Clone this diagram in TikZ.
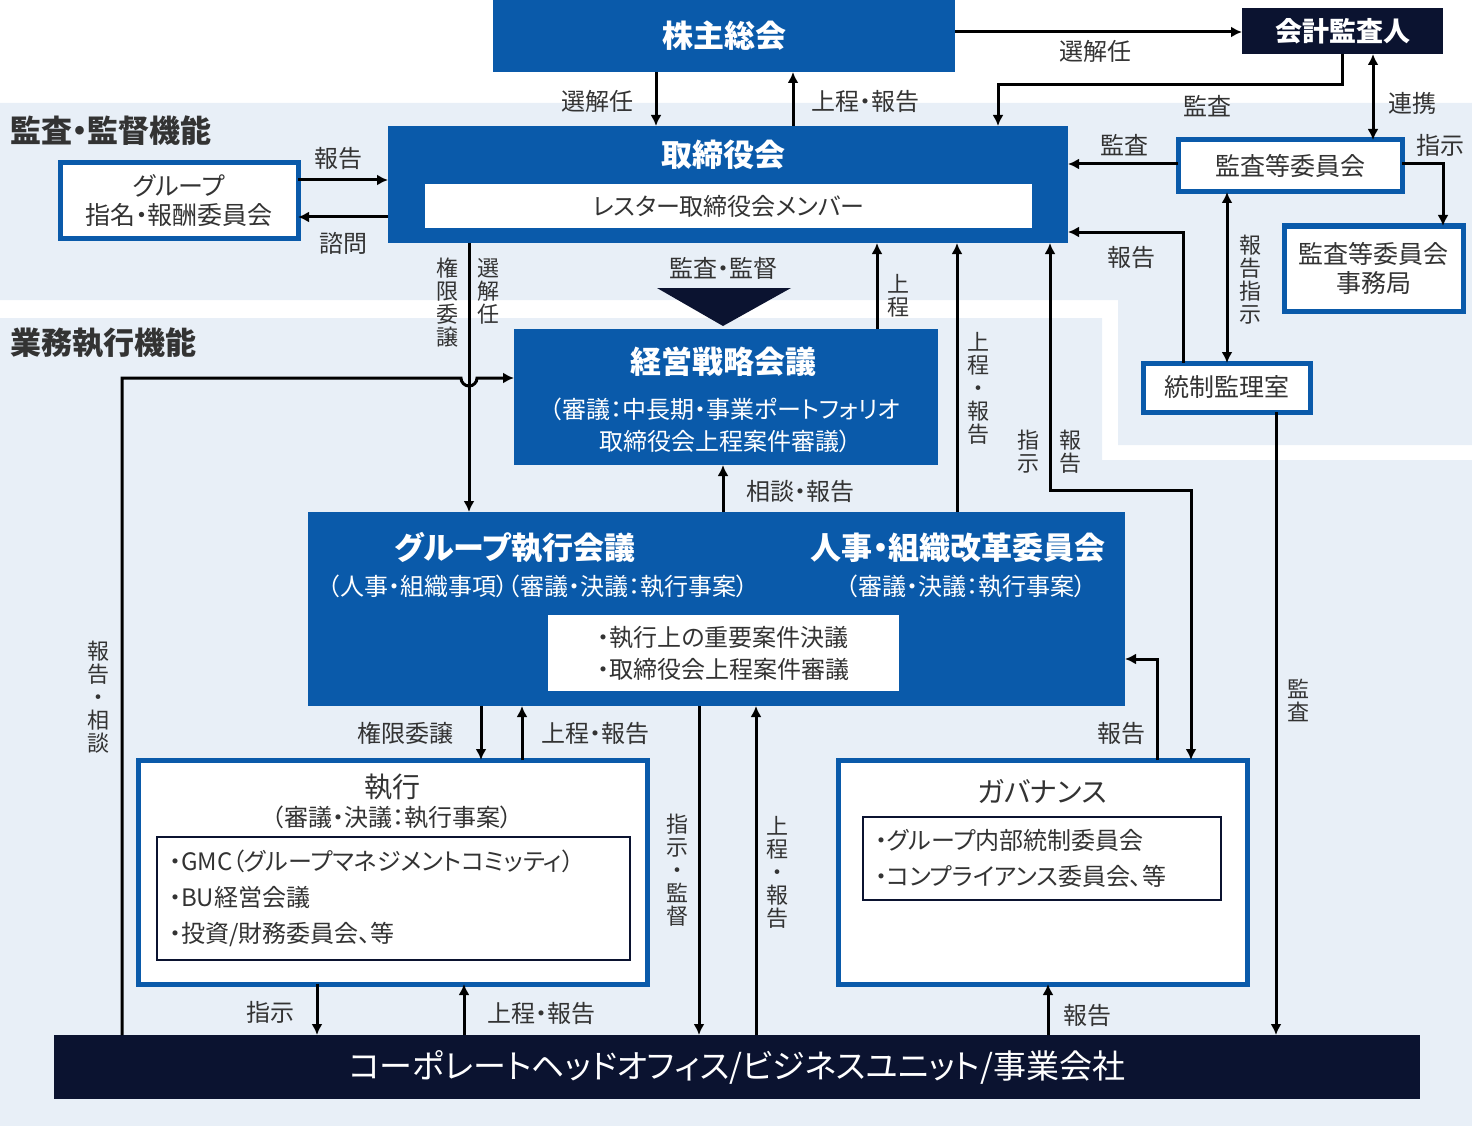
\documentclass[tikz,border=0pt]{standalone}
\usepackage{fontspec}
\setmainfont{Noto Sans CJK JP}[RawFeature = +palt]
\usetikzlibrary{arrows.meta}
\definecolor{corpblue}{HTML}{0A5AAA}
\definecolor{corpnavy}{HTML}{0B1330}
\definecolor{bandbg}{HTML}{E8EFF7}
\definecolor{labelgray}{HTML}{333333}
\newcommand\titlefont{\fontsize{31}{34}\selectfont\bfseries}
\newcommand\subfont{\fontsize{24}{32}\selectfont}
\begin{document}
\begin{tikzpicture}[
    x = 1pt, y = -1pt,
    box/.style = {anchor = north west, inner sep = 0pt, outer sep = 0pt},
    bluebox/.style = {box, fill = corpblue, text = white},
    navybox/.style = {box, fill = corpnavy, text = white},
    framebox/.style = {box, draw = corpblue, line width = 5pt, fill = white,
      text = labelgray},
    innerbox/.style = {box, draw = corpnavy, line width = 2pt, fill = white,
      text = labelgray},
    txt/.style = {inner sep = 0pt, text = labelgray, font = \subfont,
      align = center},
    vtxt/.style = {txt, font = \fontsize{22}{23}\selectfont},
    flow/.style = {line width = 3pt, -{Latex[length = 11pt, width = 11pt]}},
    both/.style = {line width = 3pt,
      {Latex[length = 11pt, width = 11pt]}-{Latex[length = 11pt, width = 11pt]}},
    ]
    \useasboundingbox (0, 0) rectangle (1472, 1126);

    % bands
    \fill [bandbg] (0, 103) -- (1472, 103) -- (1472, 445) -- (1118, 445)
    -- (1118, 300) -- (0, 300) -- cycle;
    \fill [bandbg] (0, 318) -- (1102, 318) -- (1102, 460) -- (1472, 460)
    -- (1472, 1126) -- (0, 1126) -- cycle;
    \node [txt, anchor = west, font = \fontsize{31}{34}\selectfont\bfseries]
    (audit_band) at (10, 131) {監査・監督機能};
    \node [txt, anchor = west, font = \fontsize{31}{34}\selectfont\bfseries]
    (exec_band) at (10, 343) {業務執行機能};

    % top level
    \node [bluebox, minimum width = 462, minimum height = 72] (shareholders)
    at (493, 0) {\titlefont 株主総会};
    \node [navybox, minimum width = 201, minimum height = 46] (auditor)
    at (1242, 8) {\fontsize{27}{30}\selectfont\bfseries 会計監査人};

    \node [bluebox, minimum width = 680, minimum height = 117] (board)
    at (388, 126) {};
    \node [text = white, font = \titlefont] (board_title) at (723, 155)
    {取締役会};
    \node [box, fill = white, text = labelgray, minimum width = 607,
      minimum height = 44, font = \subfont] (board_members) at (425, 184)
    {レスター取締役会メンバー};

    \node [framebox, minimum width = 238, minimum height = 75, align = center,
      font = \fontsize{25}{29}\selectfont] (nomination) at (60, 163)
    {グループ\\指名・報酬委員会};
    \node [framebox, minimum width = 224, minimum height = 52,
      font = \fontsize{25}{29}\selectfont] (audit_committee) at (1178, 140)
    {監査等委員会};
    \node [framebox, minimum width = 179, minimum height = 85, align = center,
      font = \fontsize{25}{29}\selectfont] (audit_office) at (1284, 226)
    {監査等委員会\\事務局};
    \node [framebox, minimum width = 167, minimum height = 49,
      font = \fontsize{25}{29}\selectfont] (control_office) at (1143, 363)
    {統制監理室};

    % strategy
    \fill [corpnavy] (657, 288) -- (791, 288) -- (723, 326) -- cycle;
    \node [txt] (supervise_lbl) at (723, 268) {監査・監督};
    \node [bluebox, minimum width = 424, minimum height = 136] (strategy)
    at (514, 329) {};
    \node [text = white, font = \titlefont] (strategy_title) at (723, 362)
    {経営戦略会議};
    \node [txt, text = white] (strategy_sub) at (725, 425)
    {（審議：中長期・事業ポートフォリオ\\取締役会上程案件審議）};

    % executive meetings
    \node [bluebox, minimum width = 817, minimum height = 194] (exec_meet)
    at (308, 512) {};
    \node [text = white, font = \titlefont] (exec_title) at (515, 548)
    {グループ執行会議};
    \node [txt, text = white] (exec_sub) at (538, 586)
    {（人事・組織事項）（審議・決議：執行事案）};
    \node [text = white, font = \titlefont] (hr_title) at (958, 548)
    {人事・組織改革委員会};
    \node [txt, text = white] (hr_sub) at (966, 586)
    {（審議・決議：執行事案）};
    \node [box, fill = white, text = labelgray, minimum width = 351,
      minimum height = 76, font = \subfont, align = left] (exec_items)
    at (548, 615) {・執行上の重要案件決議\\・取締役会上程案件審議};

    % execution and governance
    \node [framebox, minimum width = 509, minimum height = 224] (execution)
    at (138, 760) {};
    \node [txt, font = \fontsize{28}{30}\selectfont] (execution_title)
    at (392, 787) {執行};
    \node [txt] (execution_sub) at (392, 817) {（審議・決議：執行事案）};
    \node [innerbox, minimum width = 473, minimum height = 123,
      font = \fontsize{24}{36}\selectfont,
      align = left, text width = 449, inner xsep = 12pt] (execution_items)
    at (157, 837)
    {・GMC（グループマネジメントコミッティ）\\・BU経営会議\\・投資/財務委員会、等};

    \node [framebox, minimum width = 409, minimum height = 224] (governance)
    at (838, 760) {};
    \node [txt, font = \fontsize{28}{30}\selectfont] (governance_title)
    at (1042, 791) {ガバナンス};
    \node [innerbox, minimum width = 358, minimum height = 83,
      font = \fontsize{24}{36}\selectfont,
      align = left, text width = 334, inner xsep = 12pt] (governance_items)
    at (863, 817) {・グループ内部統制委員会\\・コンプライアンス委員会、等};

    \node [navybox, minimum width = 1366, minimum height = 64,
      font = \fontsize{33}{36}\selectfont] (operations) at (54, 1035)
    {コーポレートヘッドオフィス/ビジネスユニット/事業会社};

    % connectors, top
    \draw [flow] (shareholders.east |- 0, 32) -- (auditor.west |- 0, 32);
    \node [txt] at (1095, 51) {選解任};
    \draw [flow] (auditor.south -| 1342, 0) -- (1342, 85) -- (998, 85)
    -- (board.north -| 998, 0);
    \node [txt] at (1207, 106) {監査};
    \draw [both] (auditor.south -| 1373, 0) -- (audit_committee.north -| 1373, 0);
    \node [txt] at (1412, 103) {連携};
    \draw [flow] (audit_committee.west |- 0, 164) -- (board.east |- 0, 164);
    \node [txt] at (1124, 145) {監査};
    \draw [flow] (audit_committee.east |- 0, 164) -- (1443, 164)
    -- (audit_office.north -| 1443, 0);
    \node [txt] at (1440, 145) {指示};
    \draw [both] (audit_committee.south -| 1227, 0) -- (control_office.north -| 1227, 0);
    \node [vtxt] at (1250, 280) {報\\告\\指\\示};
    \draw [flow] (control_office.north -| 1183, 0) -- (1183, 232)
    -- (board.east |- 0, 232);
    \node [txt] at (1131, 257) {報告};
    \draw [flow] (control_office.south -| 1276, 0) -- (operations.north -| 1276, 0);
    \node [vtxt] at (1298, 700) {監\\査};

    \draw [flow] (shareholders.south -| 656, 0) -- (board.north -| 656, 0);
    \node [txt] at (597, 101) {選解任};
    \draw [flow] (board.north -| 793, 0) -- (shareholders.south -| 793, 0);
    \node [txt] at (865, 101) {上程・報告};
    \draw [flow] (nomination.east |- 0, 180) -- (board.west |- 0, 180);
    \node [txt] at (338, 158) {報告};
    \draw [flow] (board.west |- 0, 217) -- (nomination.east |- 0, 217);
    \node [txt] at (343, 243) {諮問};

    % connectors, middle
    \draw [flow] (board.south -| 469, 0) -- (exec_meet.north -| 469, 0);
    \node [vtxt, anchor = north] at (447, 258) {権\\限\\委\\譲};
    \node [vtxt, anchor = north] at (488, 258) {選\\解\\任};
    \draw [flow] (operations.north -| 122, 0) -- (122, 378) -- (461, 378)
    arc (180:0:8) -- (strategy.west |- 0, 378);
    \node [vtxt] at (98, 697) {報\\告\\・\\相\\談};
    \draw [flow] (strategy.north -| 877, 0) -- (board.south -| 877, 0);
    \node [vtxt] at (898, 296) {上\\程};
    \draw [flow] (exec_meet.north -| 957, 0) -- (board.south -| 957, 0);
    \node [vtxt] at (978, 388) {上\\程\\・\\報\\告};
    \draw [both] (board.south -| 1050, 0) -- (1050, 490) -- (1191, 490)
    -- (governance.north -| 1191, 0);
    \node [vtxt] at (1028, 452) {指\\示};
    \node [vtxt] at (1070, 452) {報\\告};
    \draw [flow] (exec_meet.north -| 723, 0) -- (strategy.south -| 723, 0);
    \node [txt] at (800, 491) {相談・報告};

    % connectors, bottom
    \draw [flow] (exec_meet.south -| 481, 0) -- (execution.north -| 481, 0);
    \node [txt] at (405, 733) {権限委譲};
    \draw [flow] (execution.north -| 522, 0) -- (exec_meet.south -| 522, 0);
    \node [txt] at (595, 733) {上程・報告};
    \draw [flow] (exec_meet.south -| 699, 0) -- (operations.north -| 699, 0);
    \node [vtxt] at (677, 870) {指\\示\\・\\監\\督};
    \draw [flow] (operations.north -| 756, 0) -- (exec_meet.south -| 756, 0);
    \node [vtxt] at (777, 872) {上\\程\\・\\報\\告};
    \draw [flow] (governance.north -| 1157, 0) -- (1157, 659)
    -- (exec_meet.east |- 0, 659);
    \node [txt] at (1121, 733) {報告};
    \draw [flow] (execution.south -| 317, 0) -- (operations.north -| 317, 0);
    \node [txt] at (270, 1012) {指示};
    \draw [flow] (operations.north -| 464, 0) -- (execution.south -| 464, 0);
    \node [txt] at (541, 1013) {上程・報告};
    \draw [flow] (operations.north -| 1048, 0) -- (governance.south -| 1048, 0);
    \node [txt] at (1087, 1015) {報告};
  \end{tikzpicture}
\end{document}
